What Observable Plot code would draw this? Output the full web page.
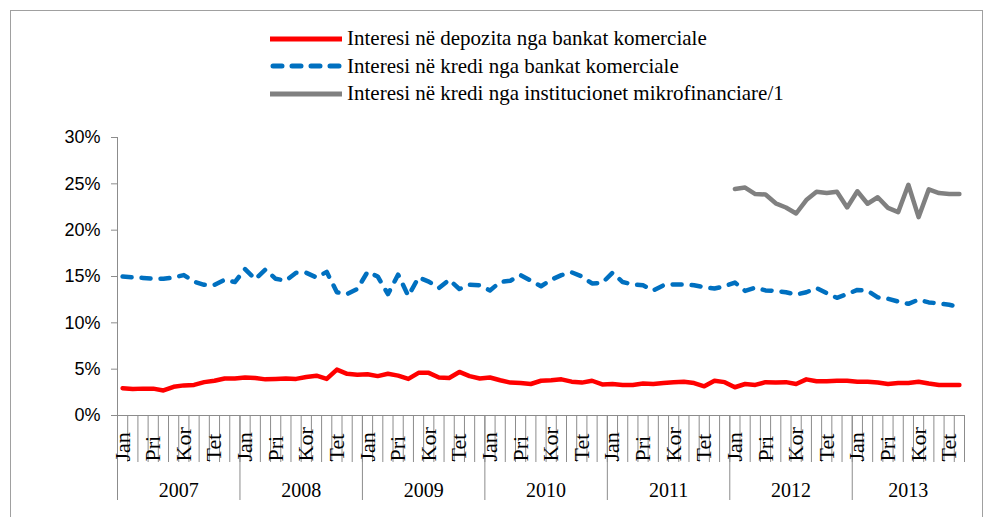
<!DOCTYPE html>
<html><head><meta charset="utf-8">
<script src="https://cdn.jsdelivr.net/npm/d3@7"></script>
<script src="https://cdn.jsdelivr.net/npm/@observablehq/plot@0.6"></script>
<style>
body{margin:0;background:#fff;}
#wrap{position:relative;width:985px;height:517px;overflow:hidden;background:#fff;}
#border{position:absolute;left:10px;top:10px;width:973px;height:540px;border:1px solid #a0a0a0;box-sizing:border-box;}
#chart{position:absolute;left:0;top:0;}
#legend{position:absolute;left:270px;top:25px;font-family:"Liberation Serif","Times New Roman",serif;font-size:21px;color:#000;}
.item{position:relative;height:27.5px;display:flex;align-items:center;white-space:nowrap;}
.item svg{margin-right:5px;}
</style></head>
<body>
<div id="wrap"><div id="border"></div><div id="chart"></div><div id="legend"></div></div>
<script>
// ---- data (percent) ----
const years = ["2007","2008","2009","2010","2011","2012","2013"];
const monthNames = ["Jan","Shk","Mar","Pri","Maj","Qer","Kor","Gus","Sht","Tet","Nën","Dhj"];
const labeledMonths = ["Jan","Pri","Kor","Tet"];
const yTicks = [0,5,10,15,20,25,30];
const seriesNames = [
  "Interesi në depozita nga bankat komerciale",
  "Interesi në kredi nga bankat komerciale",
  "Interesi në kredi nga institucionet mikrofinanciare/1"
];
const deposits = [
  2.95,2.85,2.9,2.9,2.7,3.1,3.25,3.3,3.6,3.75,4.0,4.0,
  4.1,4.05,3.9,3.95,4.0,3.95,4.15,4.3,3.95,4.95,4.5,4.4,
  4.45,4.25,4.5,4.3,3.95,4.6,4.6,4.1,4.05,4.7,4.25,4.0,
  4.1,3.8,3.55,3.5,3.4,3.75,3.8,3.9,3.65,3.55,3.75,3.35,
  3.4,3.3,3.3,3.45,3.4,3.5,3.6,3.65,3.5,3.15,3.75,3.6,
  3.05,3.4,3.3,3.6,3.55,3.6,3.4,3.9,3.7,3.7,3.75,3.75,
  3.65,3.65,3.55,3.4,3.5,3.5,3.65,3.45,3.3,3.3,3.3
];
const loans = [
  15.0,14.9,14.85,14.75,14.75,14.9,15.15,14.45,14.1,14.1,14.65,14.4,
  15.8,14.7,15.75,14.75,14.55,15.4,15.4,14.9,15.5,13.3,13.1,13.65,
  15.5,15.0,13.1,15.2,12.9,14.9,14.45,13.75,14.65,13.65,14.1,14.05,
  13.5,14.4,14.55,15.15,14.55,13.95,14.65,15.15,15.45,15.0,14.25,14.3,
  15.4,14.4,14.15,14.05,13.5,14.05,14.15,14.15,14.05,13.85,13.7,13.95,
  14.35,13.45,13.8,13.5,13.45,13.3,13.05,13.3,13.75,13.2,12.7,13.1,
  13.55,13.45,12.75,12.6,12.3,12.05,12.5,12.2,12.1,11.95,11.7
];
const micro = [ // from Jan 2012
  24.45,24.6,23.9,23.85,22.9,22.45,21.8,23.25,24.15,24.0,24.15,22.45,
  24.2,22.85,23.55,22.4,21.95,24.9,21.4,24.4,24.0,23.9,23.9
];
const microStart = 60;

const colors = ["#FF0000","#0070C0","#808080"];
const N = deposits.length;

const toRows = (arr, off) => arr.map((v,k)=>({i:k+off+0.5, v:v/100}));
const monthTicks = d3.range(N).filter(i=>labeledMonths.includes(monthNames[i%12]))
  .map(i=>({i:i+0.5, label:monthNames[i%12]}));
const yearRows = years.map((y,k)=>({x:(k*12 + Math.min(N,(k+1)*12))/2, label:y}));
const yearStarts = years.map((y,k)=>k*12);

const serif = "'Liberation Serif','Times New Roman',serif";
const sans = "'Liberation Sans',Arial,sans-serif";

const svg = Plot.plot({
  width:985, height:517,
  marginLeft:117, marginRight:21, marginTop:137, marginBottom:102,
  style:{background:"transparent", overflow:"visible"},
  x:{domain:[0,N], axis:null},
  y:{domain:[0,0.30], axis:null},
  marks:[
    Plot.axisY({ticks:yTicks.map(d=>d/100), tickFormat:d=>Math.round(d*100)+"%", tickSize:6, tickPadding:11,
      stroke:"#8c8c8c", fill:"#000", fontSize:18, fontFamily:sans, label:null, ariaLabel:"yaxis"}),
    Plot.axisX({ticks:d3.range(N+1), tickSize:47, tickFormat:()=>"", stroke:"#8c8c8c", label:null}),
    Plot.axisX({ticks:yearStarts, tickSize:85, tickFormat:()=>"", stroke:"#8c8c8c", label:null}),
    Plot.ruleX([0], {y1:0, y2:0.30, stroke:"#8c8c8c"}),
    Plot.ruleY([0], {x1:0, x2:N, stroke:"#8c8c8c"}),
    Plot.text(monthTicks, {x:"i", y:()=>0, dy:46, rotate:-90, textAnchor:"start", text:"label",
      fontFamily:serif, fontSize:22, fill:"#000", ariaLabel:"months"}),
    Plot.text(yearRows, {x:"x", y:()=>0, dy:75, text:"label", fontFamily:serif, fontSize:20, fill:"#000", ariaLabel:"years"}),
    Plot.line(toRows(deposits,0), {x:"i", y:"v", stroke:colors[0], strokeWidth:4.5, strokeLinejoin:"round"}),
    Plot.line(toRows(loans,0), {x:"i", y:"v", stroke:colors[1], strokeWidth:4.5, strokeDasharray:"9,10", strokeLinecap:"round", strokeLinejoin:"round"}),
    Plot.line(toRows(micro,microStart), {x:"i", y:"v", stroke:colors[2], strokeWidth:4.5, strokeLinejoin:"round"})
  ]
});

function stretch(label, sx, sy){
  svg.querySelectorAll(`[aria-label="${label}"] text`).forEach(t=>{
    const tr = t.getAttribute("transform");
    if (tr) t.setAttribute("transform", tr + ` scale(${sx},${sy})`);
    else {
      const x = +t.getAttribute("x")||0, y = +t.getAttribute("y")||0;
      t.setAttribute("transform", `translate(${x},${y}) scale(${sx},${sy})`);
      t.setAttribute("x",0); t.setAttribute("y",0);
    }
  });
}
stretch("months", 1.15, 1);
stretch("years", 1, 1.3);

document.getElementById("chart").appendChild(svg);

// legend
const leg = document.getElementById("legend");
seriesNames.forEach((name,k)=>{
  const row = document.createElement("div"); row.className="item";
  const dash = k===1 ? 'stroke-dasharray="9,10" stroke-linecap="round"' : '';
  row.innerHTML = `<svg width="72" height="10"><line x1="${k===1?3:0}" y1="5" x2="${k===1?69:72}" y2="5" stroke="${colors[k]}" stroke-width="5" ${dash}/></svg><span>${name}</span>`;
  leg.appendChild(row);
});
</script>
</body></html>
